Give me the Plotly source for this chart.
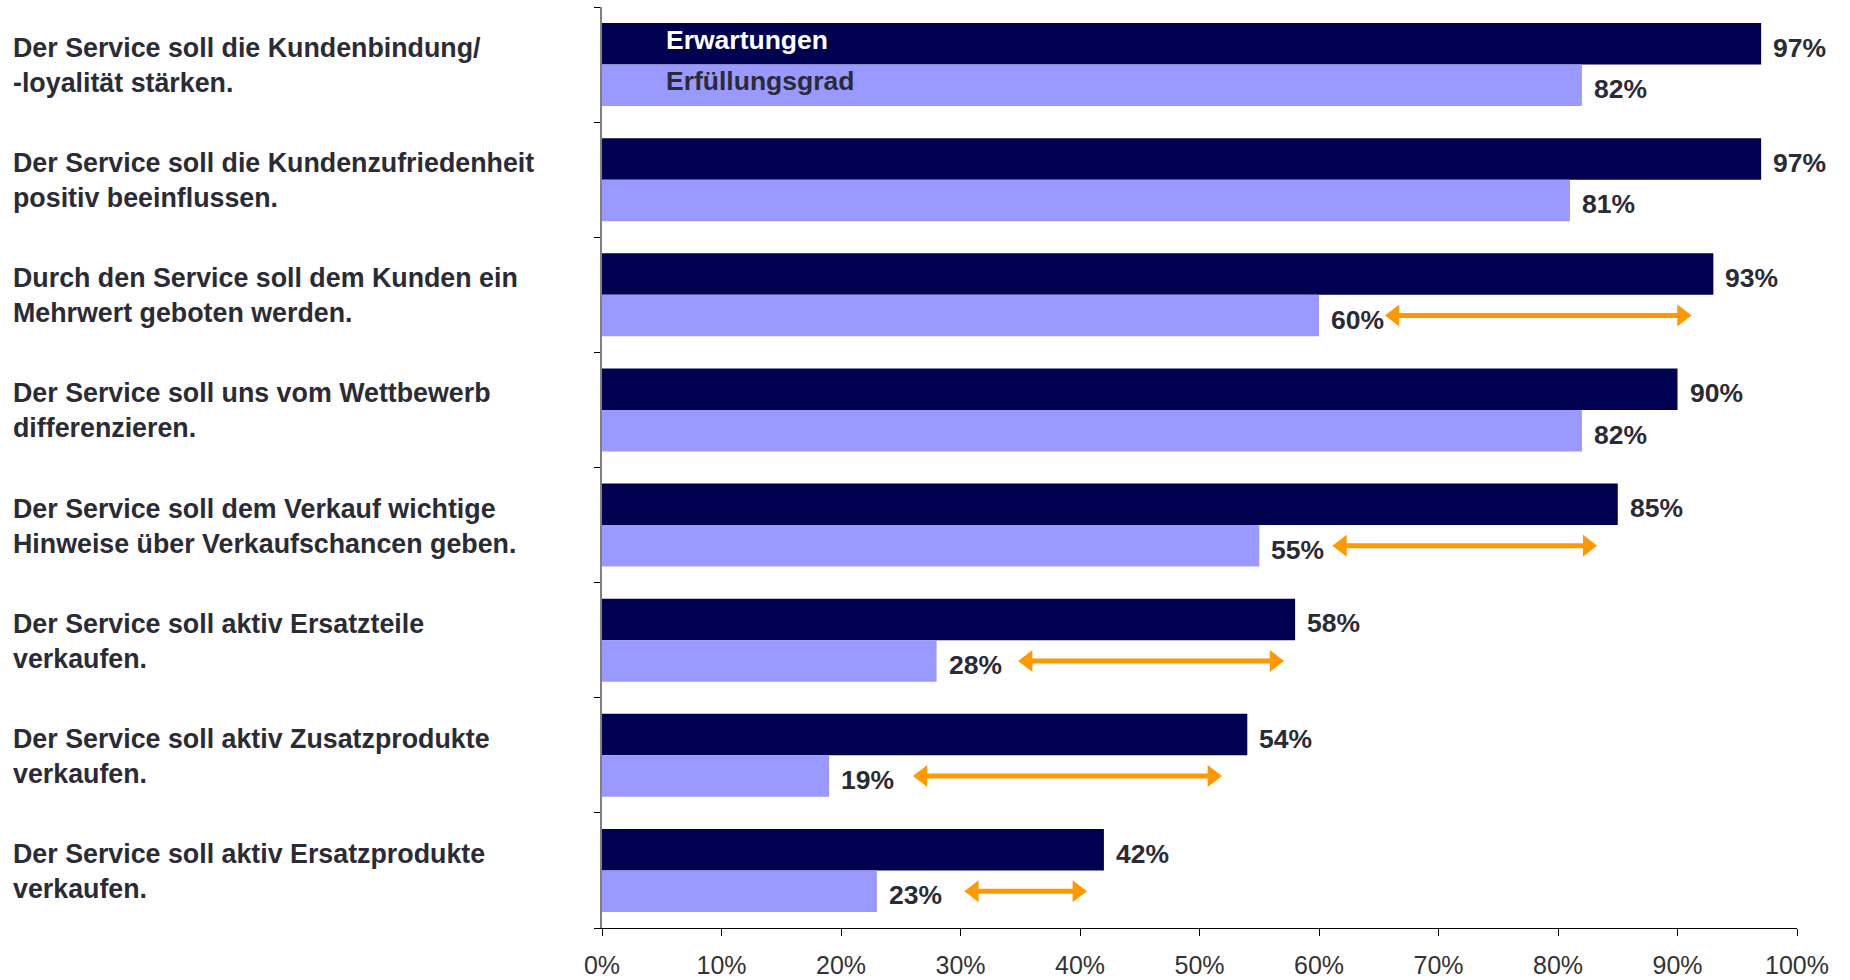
import plotly.graph_objects as go

# Survey statements (top to bottom)
statements = [
    "Der Service soll die Kundenbindung/<br>-loyalität stärken.",
    "Der Service soll die Kundenzufriedenheit<br>positiv beeinflussen.",
    "Durch den Service soll dem Kunden ein<br>Mehrwert geboten werden.",
    "Der Service soll uns vom Wettbewerb<br>differenzieren.",
    "Der Service soll dem Verkauf wichtige<br>Hinweise über Verkaufschancen geben.",
    "Der Service soll aktiv Ersatzteile<br>verkaufen.",
    "Der Service soll aktiv Zusatzprodukte<br>verkaufen.",
    "Der Service soll aktiv Ersatzprodukte<br>verkaufen.",
]

# Share of respondents in percent
erwartungen = [97, 97, 93, 90, 85, 58, 54, 42]
erfuellungsgrad = [82, 81, 60, 82, 55, 28, 19, 23]

# Gap markers: statement index, left and right arrow tip (percent)
gap_rows = [2, 4, 5, 6, 7]
gap_start = [65.4, 61.0, 34.7, 25.9, 30.2]
gap_end = [91.3, 83.4, 57.2, 52.0, 40.7]

x_ticks = list(range(0, 101, 10))

DARK = "#000050"
LIGHT = "#9999FF"
ORANGE = "#FF9900"
TEXT = "#2b2b36"
FONT = "Arial, Liberation Sans, sans-serif"

PLOT_W = 1195          # plot area width in px
HEAD = 19              # arrow head marker size in px
BAR_W = 0.36
rows = list(range(len(statements)))

fig = go.Figure()

fig.add_trace(go.Bar(
    y=rows, x=erwartungen, orientation="h", name="Erwartungen",
    marker=dict(color=DARK, line=dict(width=0)),
    width=BAR_W, offset=-BAR_W, hoverinfo="skip",
))
fig.add_trace(go.Bar(
    y=rows, x=erfuellungsgrad, orientation="h", name="Erfüllungsgrad",
    marker=dict(color=LIGHT, line=dict(width=0)),
    width=BAR_W, offset=0, hoverinfo="skip",
))

# Double-headed arrows marking the gap between expectation and fulfilment
inset = (HEAD / 2) * 2 / 3 ** 0.5 * 100 / PLOT_W   # tip distance from marker centre
for r, x0, x1 in zip(gap_rows, gap_start, gap_end):
    yy = r + BAR_W / 2
    c0, c1 = x0 + inset, x1 - inset
    fig.add_trace(go.Scatter(
        x=[c0, c1], y=[yy, yy], mode="lines",
        line=dict(color=ORANGE, width=5),
        hoverinfo="skip", showlegend=False,
    ))
    fig.add_trace(go.Scatter(
        x=[c0, c1], y=[yy, yy], mode="markers",
        marker=dict(symbol=["triangle-left", "triangle-right"], size=HEAD,
                    color=ORANGE, line=dict(width=0)),
        hoverinfo="skip", showlegend=False,
    ))

annotations = []

# Statement labels on the left
for r, label in enumerate(statements):
    annotations.append(dict(
        x=-0.4946, xref="paper", y=r, yref="y", yshift=-1,
        text=f"<b>{label}</b>", showarrow=False,
        xanchor="left", yanchor="middle", align="left",
        font=dict(family=FONT, size=26.8, color=TEXT),
    ))

# Value labels right of each bar
for r, (e, f) in enumerate(zip(erwartungen, erfuellungsgrad)):
    annotations.append(dict(
        x=e, y=r - BAR_W / 2, xref="x", yref="y", xshift=10, yshift=-4,
        text=f"<b>{e}%</b>", showarrow=False, xanchor="left", yanchor="middle",
        font=dict(family=FONT, size=26.5, color=TEXT),
    ))
    annotations.append(dict(
        x=f, y=r + BAR_W / 2, xref="x", yref="y", xshift=10, yshift=-4,
        text=f"<b>{f}%</b>", showarrow=False, xanchor="left", yanchor="middle",
        font=dict(family=FONT, size=26.5, color=TEXT),
    ))

# Series names written into the first pair of bars
annotations.append(dict(
    x=5.2, y=-BAR_W / 2, xref="x", yref="y", yshift=4, text="<b>Erwartungen</b>",
    showarrow=False, xanchor="left", yanchor="middle",
    font=dict(family=FONT, size=26.5, color="#FFFFFF"),
))
annotations.append(dict(
    x=5.2, y=BAR_W / 2, xref="x", yref="y", yshift=4, text="<b>Erfüllungsgrad</b>",
    showarrow=False, xanchor="left", yanchor="middle",
    font=dict(family=FONT, size=26.5, color=TEXT),
))

fig.update_layout(
    width=1850, height=980,
    margin=dict(l=602, r=53, t=7, b=52, autoexpand=False),
    paper_bgcolor="white", plot_bgcolor="white",
    barmode="overlay", showlegend=False,
    font=dict(family=FONT, color=TEXT),
    annotations=annotations,
    xaxis=dict(
        range=[0, 100], tickvals=x_ticks, ticktext=[f"{t}%" for t in x_ticks],
        showgrid=False, zeroline=False,
        showline=True, linecolor="#000000", linewidth=1,
        ticks="outside", ticklen=7, tickcolor="#000000", tickwidth=1,
        tickfont=dict(family=FONT, size=25, color="#333333"),
        ticklabelstandoff=8,
    ),
    yaxis=dict(
        range=[len(statements) - 0.5, -0.5],
        tickvals=[i - 0.5 for i in range(len(statements) + 1)],
        showticklabels=False, showgrid=False, zeroline=False,
        showline=True, linecolor="#808080", linewidth=2,
        ticks="outside", ticklen=6, tickcolor="#000000", tickwidth=1,
    ),
)

fig.write_html("out.html")
